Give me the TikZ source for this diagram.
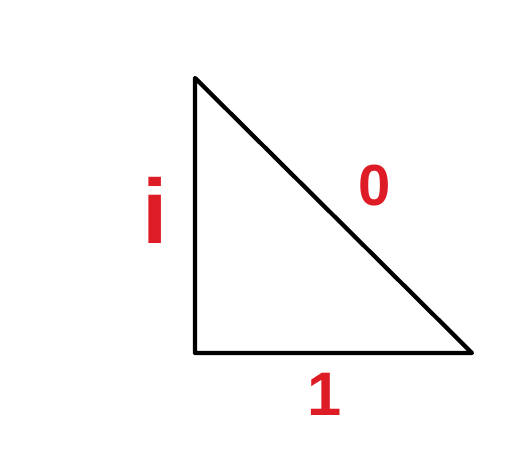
\documentclass[tikz,border=0pt]{standalone}
\usepackage{fontspec}
\setmainfont{Liberation Sans}
\usepackage{tikz}
\usetikzlibrary{positioning}

\definecolor{rojo}{RGB}{222,28,38}

\begin{document}
\begin{tikzpicture}[every node/.style={text=rojo, font=\bfseries, inner sep=0pt}]
            \useasboundingbox (0,0) rectangle (10.24,9.16);
            % Vertices
            \coordinate (a) at (3.9,7.6);
            \coordinate (b) at (3.9,2.1);
            \coordinate (c) at (9.44,2.1);

            % Etiquetas
            \node[scale=5.2] (i) at (3.1,4.95) {i};
            \node[scale=3.3] (cero) at (7.5,5.45) {0};
            \node[scale=3.5] (uno) at (6.5,1.27) {1};

            % Lados
            \draw[line width=2.4pt, line join=round] (a) -- (b) -- (c) -- cycle;
          \end{tikzpicture}
\end{document}
